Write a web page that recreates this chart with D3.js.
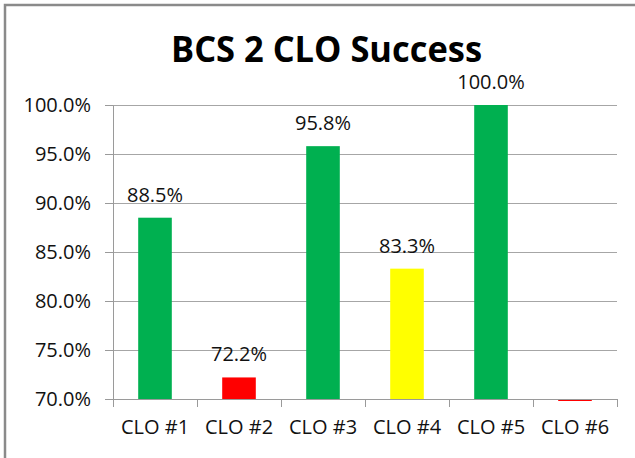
<!DOCTYPE html>
<meta charset="utf-8">
<style>
body { margin: 0; background: #fff; }
svg text { font-family: "Open Sans", "Noto Sans", sans-serif; fill: #111; }
.grid line { stroke: #a6a6a6; stroke-width: 1; }
.axis path, .axis line { stroke: #9a9a9a; }
</style>
<svg width="635" height="458"></svg>
<script src="https://cdn.jsdelivr.net/npm/d3@7/dist/d3.min.js"></script>
<script>

var categories = ["CLO #1", "CLO #2", "CLO #3", "CLO #4", "CLO #5", "CLO #6"];
var values = [88.5, 72.2, 95.8, 83.3, 100.0, 0];
var barColors = ["#00b050", "#ff0000", "#00b050", "#ffff00", "#00b050", "#ff0000"];
var yTicks = [70, 75, 80, 85, 90, 95, 100];
var title = "BCS 2 CLO Success";

var svg = d3.select("svg"),
    margin = {top: 105, right: 18, bottom: 59, left: 113},
    width = +svg.attr("width") - margin.left - margin.right,
    height = +svg.attr("height") - margin.top - margin.bottom;

// chart area border (cropped on the right and bottom like the screenshot)
svg.append("rect")
    .attr("x", 5).attr("y", 5)
    .attr("width", 700).attr("height", 500)
    .attr("fill", "none")
    .attr("stroke", "#8a8a8a")
    .attr("stroke-width", 2.5);

svg.append("text")
    .attr("x", 171)
    .attr("y", 62)
    .attr("font-size", 36)
    .attr("font-weight", "bold")
    .attr("textLength", 311)
    .attr("lengthAdjust", "spacingAndGlyphs")
    .style("fill", "#000")
    .text(title);

var x = d3.scaleBand()
    .domain(categories)
    .range([0, width])
    .paddingInner(0.6)
    .paddingOuter(0.3);

var y = d3.scaleLinear()
    .domain([70, 100])
    .range([height, 0])
    .clamp(true);

var g = svg.append("g")
    .attr("transform", "translate(" + margin.left + "," + margin.top + ")");

// gridlines, extending left past the axis as tick marks
g.append("g")
    .attr("class", "grid")
  .selectAll("line")
  .data(yTicks.slice(1))
  .enter().append("line")
    .attr("x1", -8)
    .attr("x2", width)
    .attr("y1", function(d) { return Math.round(y(d)) + 0.5; })
    .attr("y2", function(d) { return Math.round(y(d)) + 0.5; });

// bars
g.selectAll(".bar")
  .data(values)
  .enter().append("rect")
    .attr("class", "bar")
    .attr("x", function(d, i) { return x(categories[i]); })
    .attr("width", x.bandwidth())
    .attr("y", function(d) { return y(d); })
    .attr("height", function(d) { return Math.max(2, height - y(d)); })
    .attr("fill", function(d, i) { return barColors[i]; });

// value labels (a value under the axis minimum gets none)
g.selectAll(".val")
  .data(values)
  .enter().append("text")
    .attr("class", "val")
    .attr("x", function(d, i) { return x(categories[i]) + x.bandwidth() / 2; })
    .attr("y", function(d) { return y(d) - 16; })
    .attr("text-anchor", "middle")
    .attr("font-size", 20)
    .text(function(d) { return d >= y.domain()[0] ? d.toFixed(1) + "%" : ""; });

// y axis
var yAxis = g.append("g")
    .attr("class", "axis")
    .call(d3.axisLeft(y)
        .tickValues(yTicks)
        .tickSize(8)
        .tickPadding(14)
        .tickFormat(function(d) { return d.toFixed(1) + "%"; }));
yAxis.selectAll("text").attr("font-size", 20).style("font-family", "'Open Sans', sans-serif").style("fill", "#111");
yAxis.select(".domain").attr("d", "M0.5," + height + "V0.5");

// x axis: line plus tick marks at category boundaries
var xAxis = g.append("g")
    .attr("class", "axis")
    .attr("transform", "translate(0," + height + ")")
    .call(d3.axisBottom(x).tickSize(0).tickPadding(21));
xAxis.select(".domain").attr("d", "M0," + 0.5 + "H" + width);
xAxis.selectAll("text").attr("font-size", 20).style("font-family", "'Open Sans', sans-serif").style("fill", "#111");
xAxis.selectAll(".bound")
  .data(d3.range(categories.length + 1))
  .enter().append("line")
    .attr("class", "bound")
    .attr("x1", function(i) { return Math.round(i * width / categories.length) + 0.5; })
    .attr("x2", function(i) { return Math.round(i * width / categories.length) + 0.5; })
    .attr("y1", 0)
    .attr("y2", 8);

</script>
